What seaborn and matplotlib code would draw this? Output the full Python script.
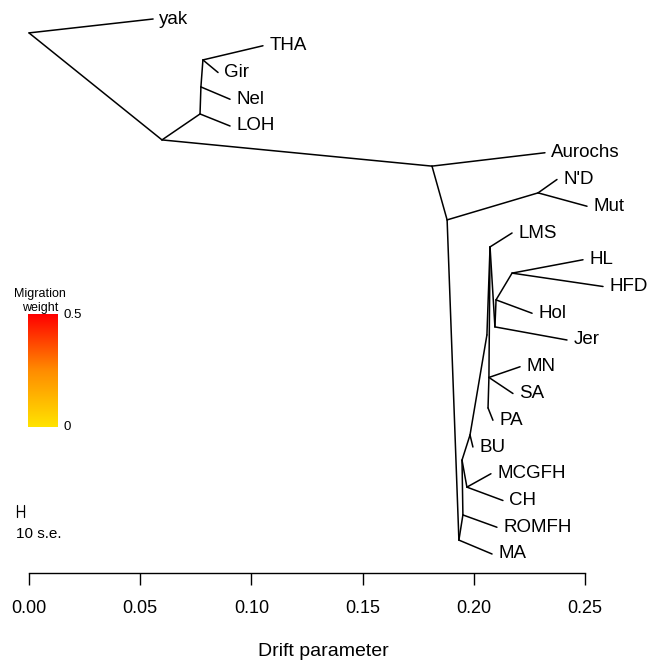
import numpy as np
import pandas as pd
import matplotlib
matplotlib.use("Agg")
import matplotlib.pyplot as plt
import seaborn as sns
from matplotlib.colors import LinearSegmentedColormap
from matplotlib.lines import Line2D

sns.set_style("white")
plt.rcParams['font.family'] = ['Liberation Sans', 'DejaVu Sans']
plt.rcParams['text.color'] = 'black'
plt.rcParams['axes.labelcolor'] = 'black'
plt.rcParams['xtick.color'] = 'black'

# ---- tree data (drift x, vertical rank y) ----
node_names = ["R", "yak", "A", "B", "N", "T", "THA", "Gir", "Nel", "LOH",
              "C", "Aurochs", "D", "E", "N'D", "Mut", "M", "MA", "Ro", "ROMFH",
              "F", "H", "MCGFH", "CH", "Bu", "BU", "G", "L", "LMS", "J", "Jer",
              "Ho", "Hol", "HH", "HL", "HFD", "S", "MN", "SA", "Q", "PA"]
node_x = [0.0000, 0.0558, 0.0598, 0.0769, 0.0773, 0.0782, 0.1052, 0.0850, 0.0904, 0.0904,
          0.1812, 0.2320, 0.1880, 0.2289, 0.2374, 0.2509, 0.1933, 0.2082, 0.1951, 0.2104,
          0.1947, 0.1969, 0.2077, 0.2131, 0.1983, 0.1996, 0.2059, 0.2073, 0.2172, 0.2095, 0.2419,
          0.2100, 0.2262, 0.2172, 0.2491, 0.2581, 0.2068, 0.2208, 0.2176, 0.2064, 0.2086]
node_y = [0.52, 0, 4.52, 3.55, 2.54, 1.53, 1, 2, 3, 4,
          5.50, 5, 7.51, 6.50, 6, 7, 19.48, 20, 18.54, 19,
          16.49, 17.50, 17, 18, 15.55, 16, 11.81, 8.52, 8, 11.51, 12,
          10.50, 11, 9.50, 9, 10, 13.40, 13, 14, 14.54, 15]

edge_parent = ["R", "R", "A", "B", "B", "N", "N", "T", "T",
               "A", "C", "C", "D", "E", "E", "D", "M", "M", "Ro", "Ro",
               "F", "H", "H", "F", "Bu", "Bu", "G", "L", "L", "J", "J",
               "Ho", "Ho", "HH", "HH", "L", "S", "S", "S", "Q"]
edge_child = ["yak", "A", "B", "LOH", "N", "Nel", "T", "THA", "Gir",
              "C", "Aurochs", "D", "E", "N'D", "Mut", "M", "MA", "Ro", "ROMFH", "F",
              "H", "MCGFH", "CH", "Bu", "BU", "G", "L", "LMS", "J", "Jer", "Ho",
              "Hol", "HH", "HL", "HFD", "S", "MN", "SA", "Q", "PA"]

leaves = ["yak", "THA", "Gir", "Nel", "LOH", "Aurochs", "N'D", "Mut", "LMS", "HL",
          "HFD", "Hol", "Jer", "MN", "SA", "PA", "BU", "MCGFH", "CH", "ROMFH", "MA"]

xticks = [0.00, 0.05, 0.10, 0.15, 0.20, 0.25]
xtick_labels = ["0.00", "0.05", "0.10", "0.15", "0.20", "0.25"]

pos = {n: (x, y) for n, x, y in zip(node_names, node_x, node_y)}
rows = []
for i, (p, c) in enumerate(zip(edge_parent, edge_child)):
    rows.append({"edge": i, "order": 0, "x": pos[p][0], "y": pos[p][1]})
    rows.append({"edge": i, "order": 1, "x": pos[c][0], "y": pos[c][1]})
df = pd.DataFrame(rows)

W, H = 647, 662
fig = plt.figure(figsize=(W / 100, H / 100), dpi=100)
ax_bottom_px = 573
ax = fig.add_axes([0, (H - ax_bottom_px) / H, 1, ax_bottom_px / H])

sns.lineplot(data=df, x="x", y="y", units="edge", estimator=None, sort=False,
             color="black", lw=1.1, ax=ax, legend=False)

for name in leaves:
    x, y = pos[name]
    ax.annotate(name, (x, y), xytext=(4.5, 0), textcoords="offset points",
                ha="left", va="center", fontsize=13.5, color="black")

px_per_unit = 2224
ax.set_xlim(-29 / px_per_unit, (W - 29) / px_per_unit)
ax.set_ylim((ax_bottom_px - 19) / 26.75, -19 / 26.75)

for s in ["top", "left", "right"]:
    ax.spines[s].set_visible(False)
ax.spines["bottom"].set_bounds(0, 0.25)
ax.spines["bottom"].set_linewidth(1.0)
ax.spines["bottom"].set_color("black")
ax.set_xticks(xticks)
ax.set_xticklabels(xtick_labels, fontsize=13)
ax.tick_params(axis="x", direction="out", length=8.5, width=1.0, pad=11, bottom=True)
ax.set_yticks([])
ax.set_ylabel("")
ax.set_xlabel("Drift parameter", fontsize=14, labelpad=19)
ax.patch.set_alpha(0)

# ---- migration weight colour scale ----
cmap = LinearSegmentedColormap.from_list("mig", ["#FFE300", "#FF8C00", "#FF0000"])
cax = fig.add_axes([28 / W, (H - 427) / H, 30 / W, 113 / H])
grad = np.linspace(0.5, 0, 200).reshape(-1, 1)
cax.imshow(grad, aspect="auto", cmap=cmap, vmin=0, vmax=0.5)
cax.axis("off")
fig.text(40 / W, 1 - 301 / H, "Migration\nweight", ha="center", va="center",
         fontsize=9, linespacing=1.2)
fig.text(64 / W, 1 - 315 / H, "0.5", ha="left", va="center", fontsize=9.5)
fig.text(64 / W, 1 - 427 / H, "0", ha="left", va="center", fontsize=9.5)

# ---- 10 s.e. scale bar ----
for (x0, y0, x1, y1) in [(17, 505, 17, 517), (24, 505, 24, 517), (17, 511, 24, 511)]:
    fig.add_artist(Line2D([x0 / W, x1 / W], [1 - y0 / H, 1 - y1 / H],
                          transform=fig.transFigure, color="black", lw=0.9))
fig.text(16 / W, 1 - 534 / H, "10 s.e.", ha="left", va="center", fontsize=11)

fig.savefig("out.png", dpi=100)
